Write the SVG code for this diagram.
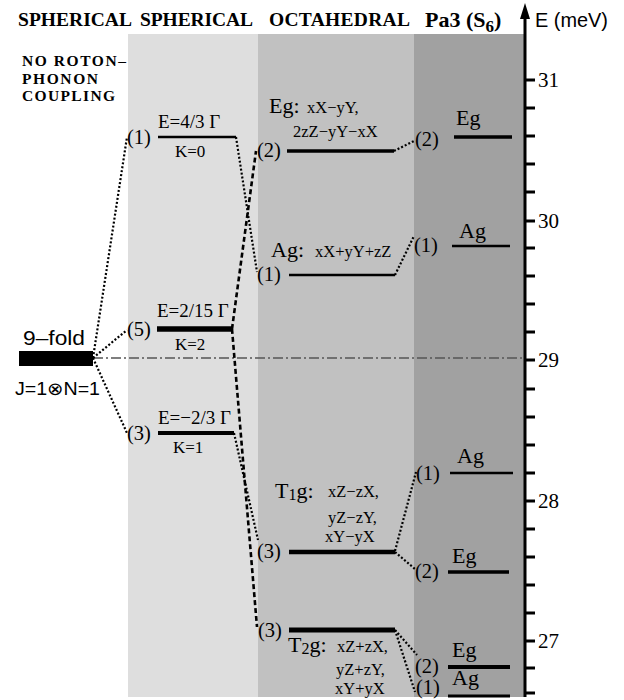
<svg xmlns="http://www.w3.org/2000/svg" width="624" height="700" viewBox="0 0 624 700">
<style>
.serif{font-family:"Liberation Serif","Times New Roman",serif;fill:#000}
.sans{font-family:"Liberation Sans",Arial,sans-serif;fill:#000}
.hdr{font-family:"Liberation Serif","Times New Roman",serif;font-weight:bold;font-size:19.5px}
.deg{font-size:20.5px}
.big{font-size:22px}
.fn{font-size:16.5px}
.en{font-size:19px}
.k{font-size:17px}
.lvl{stroke:#000;fill:none}
.dot{stroke:#000;stroke-width:2.2;stroke-dasharray:2 2;fill:none}
.dash{stroke:#000;stroke-width:2.6;stroke-dasharray:5 3;fill:none}
.tick{stroke:#000;stroke-width:3}
.tl{font-family:"Liberation Serif","Times New Roman",serif;font-size:21px}
</style>
<rect x="0" y="0" width="624" height="700" fill="#fff"/>
<g id="panels">
<rect x="128" y="34" width="130" height="663" fill="#dedede"/>
<rect x="258" y="34" width="156" height="663" fill="#c1c1c1"/>
<rect x="414" y="34" width="111" height="663" fill="#a1a1a1"/>
</g>
<g id="headers">
<text class="hdr" x="18" y="26" textLength="114">SPHERICAL</text>
<text class="hdr" x="140" y="26" textLength="113">SPHERICAL</text>
<text class="hdr" x="269" y="26" textLength="141">OCTAHEDRAL</text>
<text class="serif" font-weight="bold" font-size="22" x="425" y="27">Pa3 (S<tspan font-size="17" dy="5">6</tspan><tspan dy="-5">)</tspan></text>
<text class="serif" font-weight="bold" font-size="15.5" x="22" y="66" textLength="104">NO ROTON–</text>
<text class="serif" font-weight="bold" font-size="15.5" x="22" y="84" textLength="76">PHONON</text>
<text class="serif" font-weight="bold" font-size="15.5" x="22" y="101" textLength="93">COUPLING</text>
</g>
<g id="axis">
<line x1="525" y1="14" x2="525" y2="697" stroke="#000" stroke-width="3"/>
<polygon points="525,3 520,19 530,19" fill="#000"/>
<text class="sans" x="535" y="27" font-size="20" textLength="73" lengthAdjust="spacingAndGlyphs">E (meV)</text>
<g class="tick">
<line x1="525" y1="80" x2="535" y2="80"/>
<line x1="525" y1="108" x2="535" y2="108"/>
<line x1="525" y1="136" x2="535" y2="136"/>
<line x1="525" y1="164" x2="535" y2="164"/>
<line x1="525" y1="192" x2="535" y2="192"/>
<line x1="525" y1="221" x2="535" y2="221"/>
<line x1="525" y1="248" x2="535" y2="248"/>
<line x1="525" y1="276" x2="535" y2="276"/>
<line x1="525" y1="304" x2="535" y2="304"/>
<line x1="525" y1="332" x2="535" y2="332"/>
<line x1="525" y1="360" x2="535" y2="360"/>
<line x1="525" y1="389" x2="535" y2="389"/>
<line x1="525" y1="417" x2="535" y2="417"/>
<line x1="525" y1="445" x2="535" y2="445"/>
<line x1="525" y1="473" x2="535" y2="473"/>
<line x1="525" y1="501" x2="535" y2="501"/>
<line x1="525" y1="529" x2="535" y2="529"/>
<line x1="525" y1="557" x2="535" y2="557"/>
<line x1="525" y1="585" x2="535" y2="585"/>
<line x1="525" y1="613" x2="535" y2="613"/>
<line x1="525" y1="641" x2="535" y2="641"/>
<line x1="525" y1="668" x2="535" y2="668"/>
<line x1="525" y1="693" x2="535" y2="693"/>
</g>
<text class="tl" x="538" y="87">31</text>
<text class="tl" x="538" y="228">30</text>
<text class="tl" x="538" y="367">29</text>
<text class="tl" x="538" y="508">28</text>
<text class="tl" x="538" y="648">27</text>
</g>
<g id="connectors">
<line x1="93" y1="358" x2="525" y2="358" stroke="#555" stroke-width="1.6" stroke-dasharray="10 3 2 3"/>
<line class="dot" x1="93" y1="358" x2="127" y2="137"/>
<line class="dot" x1="93" y1="358" x2="127" y2="330"/>
<line class="dot" x1="93" y1="358" x2="127" y2="433"/>
<line class="dot" x1="236" y1="137" x2="257" y2="272"/>
<line class="dash" x1="232" y1="329" x2="256" y2="151"/>
<line class="dash" x1="232" y1="329" x2="257" y2="627"/>
<line class="dot" x1="234" y1="433" x2="258" y2="540"/>
<line class="dot" x1="394" y1="151" x2="414" y2="141"/>
<line class="dot" x1="395" y1="275" x2="414" y2="236"/>
<line class="dot" x1="395" y1="551" x2="416" y2="472"/>
<line class="dot" x1="395" y1="552" x2="415" y2="569"/>
<line class="dot" x1="395" y1="630" x2="417" y2="655"/>
<line class="dot" x1="395" y1="630" x2="415" y2="692"/>
</g>
<g id="ninefold">
<rect x="19" y="351" width="74" height="15" fill="#000"/>
<text class="sans" x="23" y="345" font-size="20" textLength="62" lengthAdjust="spacingAndGlyphs">9–fold</text>
<text class="sans" x="15" y="395" font-size="18" textLength="85" lengthAdjust="spacingAndGlyphs">J=1⊗N=1</text>
</g>
<g id="sph-k0">
<text class="serif deg" x="127" y="144">(1)</text>
<line class="lvl" x1="158" y1="137" x2="236" y2="137" stroke-width="2.5"/>
<text class="serif en" x="158" y="128">E=4/3 Γ</text>
<text class="serif k" x="175" y="157">K=0</text>
</g>
<g id="sph-k2">
<text class="serif deg" x="127" y="336">(5)</text>
<line class="lvl" x1="157" y1="329" x2="232" y2="329" stroke-width="5.5"/>
<text class="serif en" x="157" y="317">E=2/15 Γ</text>
<text class="serif k" x="175" y="350">K=2</text>
</g>
<g id="sph-k1">
<text class="serif deg" x="127" y="440">(3)</text>
<line class="lvl" x1="158" y1="433" x2="234" y2="433" stroke-width="4"/>
<text class="serif en" x="158" y="424">E=−2/3 Γ</text>
<text class="serif k" x="173" y="453">K=1</text>
</g>
<g id="oct-eg">
<text class="serif deg" x="257" y="157">(2)</text>
<line class="lvl" x1="287" y1="151" x2="394" y2="151" stroke-width="3.5"/>
<text class="serif big" x="269" y="113">Eg:</text>
<text class="serif fn" x="307" y="113">xX−yY,</text>
<text class="serif fn" x="293" y="137">2zZ−yY−xX</text>
</g>
<g id="oct-ag">
<text class="serif deg" x="257" y="281">(1)</text>
<line class="lvl" x1="289" y1="275" x2="395" y2="275" stroke-width="2.5"/>
<text class="serif big" x="271" y="257">Ag:</text>
<text class="serif fn" x="315" y="257">xX+yY+zZ</text>
</g>
<g id="oct-t1g">
<text class="serif deg" x="257" y="558">(3)</text>
<line class="lvl" x1="289" y1="552" x2="395" y2="552" stroke-width="4.5"/>
<text class="serif big" x="275" y="498">T<tspan font-size="16" dy="2">1</tspan><tspan dy="-2">g:</tspan></text>
<text class="serif fn" x="328" y="497">xZ−zX,</text>
<text class="serif fn" x="328" y="523">yZ−zY,</text>
<text class="serif fn" x="325" y="542">xY−yX</text>
</g>
<g id="oct-t2g">
<text class="serif deg" x="258" y="637">(3)</text>
<line class="lvl" x1="289" y1="630" x2="395" y2="630" stroke-width="5"/>
<text class="serif big" x="288" y="652">T<tspan font-size="16" dy="2">2</tspan><tspan dy="-2">g:</tspan></text>
<text class="serif fn" x="337" y="652">xZ+zX,</text>
<text class="serif fn" x="336" y="675">yZ+zY,</text>
<text class="serif fn" x="335" y="694">xY+yX</text>
</g>
<g id="pa3-eg1">
<text class="serif deg" x="415" y="146">(2)</text>
<line class="lvl" x1="454" y1="137" x2="512" y2="137" stroke-width="3.5"/>
<text class="serif big" x="456" y="125">Eg</text>
</g>
<g id="pa3-ag1">
<text class="serif deg" x="414" y="252">(1)</text>
<line class="lvl" x1="452" y1="246" x2="510" y2="246" stroke-width="2.5"/>
<text class="serif big" x="459" y="238">Ag</text>
</g>
<g id="pa3-ag2">
<text class="serif deg" x="416" y="480">(1)</text>
<line class="lvl" x1="450" y1="473" x2="513" y2="473" stroke-width="2.5"/>
<text class="serif big" x="457" y="463">Ag</text>
</g>
<g id="pa3-eg2">
<text class="serif deg" x="415" y="578">(2)</text>
<line class="lvl" x1="448" y1="572" x2="509" y2="572" stroke-width="3.5"/>
<text class="serif big" x="452" y="563">Eg</text>
</g>
<g id="pa3-eg3">
<text class="serif deg" x="415" y="673">(2)</text>
<line class="lvl" x1="448" y1="667" x2="510" y2="667" stroke-width="4"/>
<text class="serif big" x="452" y="657">Eg</text>
</g>
<g id="pa3-ag3">
<text class="serif deg" x="416" y="694">(1)</text>
<line class="lvl" x1="448" y1="696" x2="510" y2="696" stroke-width="3"/>
<text class="serif big" x="452" y="685">Ag</text>
</g>
</svg>
